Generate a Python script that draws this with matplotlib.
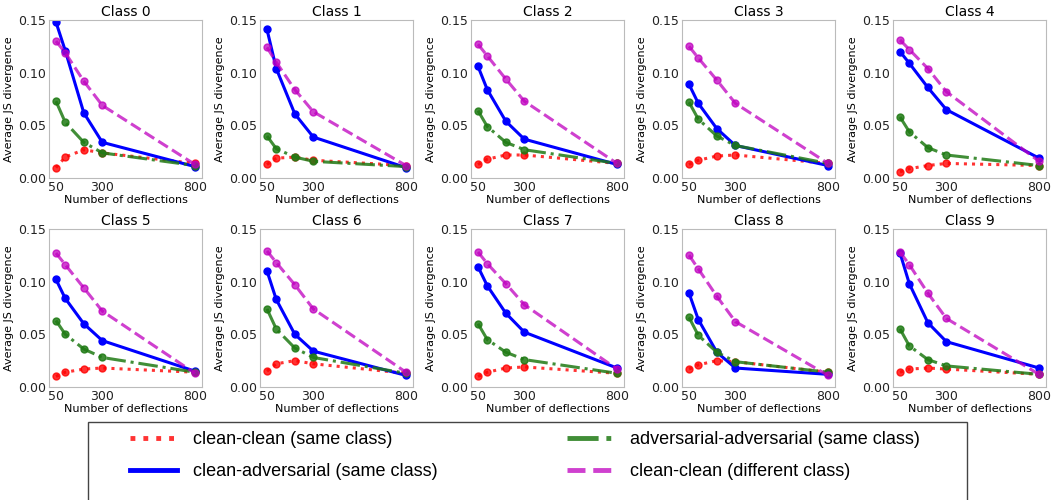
import numpy as np
import matplotlib
matplotlib.use("Agg")
import matplotlib.pyplot as plt
from matplotlib.lines import Line2D
from matplotlib.patches import Rectangle

# число отклонений (ось X)
deflections = [50, 100, 200, 300, 800]
class_names = [f"Class {i}" for i in range(10)]

# clean-clean (same class)
clean_same = [
    [0.010, 0.020, 0.027, 0.024, 0.014],
    [0.013, 0.019, 0.020, 0.017, 0.012],
    [0.013, 0.018, 0.022, 0.022, 0.014],
    [0.013, 0.017, 0.021, 0.022, 0.014],
    [0.006, 0.009, 0.012, 0.014, 0.012],
    [0.010, 0.014, 0.017, 0.018, 0.014],
    [0.015, 0.022, 0.025, 0.022, 0.013],
    [0.010, 0.014, 0.018, 0.019, 0.013],
    [0.017, 0.021, 0.025, 0.024, 0.014],
    [0.014, 0.017, 0.018, 0.017, 0.012],
]
# clean-adversarial (same class)
clean_adv = [
    [0.148, 0.121, 0.062, 0.034, 0.011],
    [0.141, 0.104, 0.061, 0.039, 0.010],
    [0.106, 0.084, 0.054, 0.037, 0.013],
    [0.089, 0.071, 0.047, 0.031, 0.012],
    [0.120, 0.109, 0.086, 0.065, 0.019],
    [0.102, 0.084, 0.060, 0.044, 0.015],
    [0.110, 0.083, 0.050, 0.034, 0.011],
    [0.114, 0.096, 0.070, 0.052, 0.018],
    [0.089, 0.064, 0.033, 0.018, 0.012],
    [0.127, 0.098, 0.061, 0.043, 0.018],
]
# adversarial-adversarial (same class)
adv_adv = [
    [0.073, 0.053, 0.034, 0.024, 0.012],
    [0.040, 0.028, 0.020, 0.016, 0.011],
    [0.064, 0.049, 0.034, 0.027, 0.014],
    [0.072, 0.056, 0.040, 0.031, 0.014],
    [0.058, 0.044, 0.029, 0.022, 0.012],
    [0.063, 0.050, 0.036, 0.028, 0.014],
    [0.074, 0.055, 0.037, 0.028, 0.013],
    [0.060, 0.045, 0.033, 0.026, 0.013],
    [0.066, 0.049, 0.033, 0.024, 0.014],
    [0.055, 0.039, 0.026, 0.020, 0.012],
]
# clean-clean (different class)
clean_diff = [
    [0.130, 0.119, 0.092, 0.069, 0.013],
    [0.124, 0.110, 0.084, 0.063, 0.012],
    [0.127, 0.116, 0.094, 0.073, 0.014],
    [0.125, 0.114, 0.093, 0.071, 0.014],
    [0.131, 0.122, 0.104, 0.082, 0.016],
    [0.127, 0.116, 0.094, 0.072, 0.013],
    [0.129, 0.118, 0.097, 0.074, 0.014],
    [0.128, 0.117, 0.098, 0.078, 0.017],
    [0.125, 0.112, 0.086, 0.062, 0.011],
    [0.128, 0.116, 0.089, 0.065, 0.012],
]

series = [
    (clean_same, "red", ":", 0.8, "clean-clean (same class)"),
    (clean_adv, "blue", "-", 1.0, "clean-adversarial (same class)"),
    (adv_adv, "#1f7a14", "-.", 0.85, "adversarial-adversarial (same class)"),
    (clean_diff, "m", "--", 0.75, "clean-clean (different class)"),
]

fig, axes = plt.subplots(2, 5, figsize=(10.52, 5.0), dpi=100)
plt.subplots_adjust(left=0.0466, right=0.9943, top=0.96, bottom=0.226,
                    wspace=0.38, hspace=0.32)

for i, ax in enumerate(axes.flat):
    for data, color, ls, alpha, label in series:
        ax.plot(deflections, data[i], color=color, linestyle=ls, linewidth=2.2,
                marker="o", markersize=5, alpha=alpha)
    ax.set_ylim(0, 0.15)
    ax.set_xticks([50, 300, 800])
    ax.set_yticks([0, 0.05, 0.10, 0.15])
    ax.set_yticklabels(["0.00", "0.05", "0.10", "0.15"])
    ax.tick_params(length=0, labelsize=9, colors="#222222", pad=2)
    for sp in ax.spines.values():
        sp.set_color("#bbbbbb")
    ax.set_title(class_names[i], fontsize=10, pad=3)
    ax.set_xlabel("Number of deflections", fontsize=8, labelpad=1)
    ax.set_ylabel("Average JS divergence", fontsize=8, labelpad=3)

# рамка легенды (обрезана снизу, как в оригинале)
fig.patches.append(Rectangle((88 / 1052, -0.02), (967 - 88) / 1052, 0.02 + 78 / 500,
                             transform=fig.transFigure, facecolor="white",
                             edgecolor="#444444", linewidth=1.0))

handles = [Line2D([0], [0], color=c, linestyle=ls, linewidth=3.5, alpha=a)
           for _, c, ls, a, _ in series]
labels = [s[4] for s in series]
fig.legend(handles, labels, ncol=2, frameon=False, mode="expand",
           loc="upper left", borderpad=0, borderaxespad=0,
           bbox_to_anchor=(130 / 1052, 1 - 436 / 500, (920 - 130) / 1052, 0.01),
           prop={"family": "Liberation Sans", "size": 13},
           handlelength=2.6, handletextpad=0.9, labelspacing=0.85)

fig.savefig("out.png", dpi=100)
